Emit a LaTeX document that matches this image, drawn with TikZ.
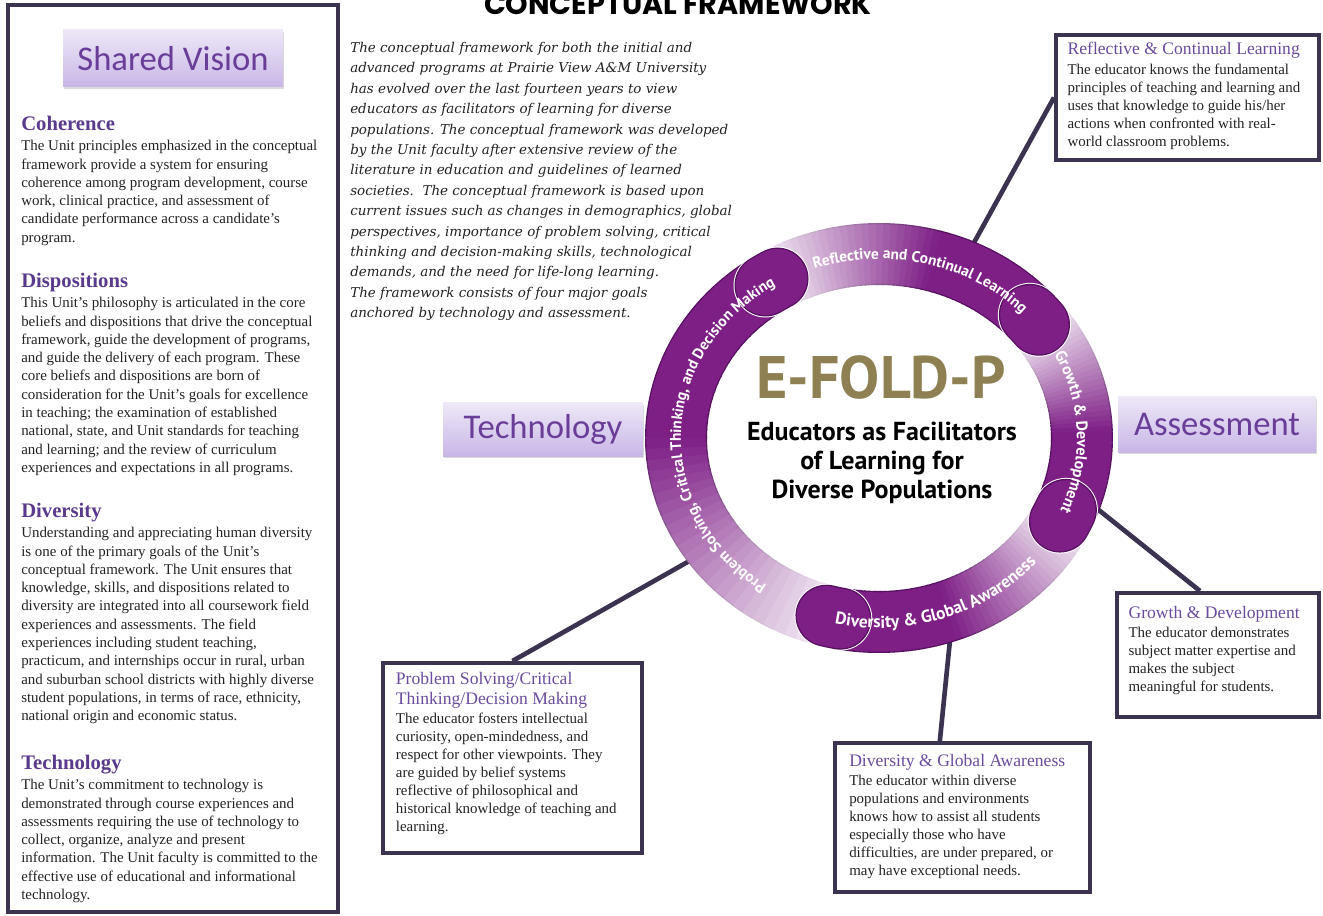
\documentclass[tikz,border=0pt]{standalone}
\usepackage{fontspec}
\setmainfont{Liberation Serif}
\newfontfamily\goalfont{Carlito}
\newfontfamily\ringfont{PT Sans}
\newfontfamily\introfont{DejaVu Serif}
\newfontfamily\titlefont{Poppins}
\usetikzlibrary{positioning, shadows, decorations.text}

\definecolor{framecol}{HTML}{3B3350}
\definecolor{headpurple}{HTML}{5A3A8C}
\definecolor{descpurple}{HTML}{6A4C9C}
\definecolor{goalpurple}{HTML}{6A3E98}
\definecolor{lavtop}{HTML}{EEE8F8}
\definecolor{lavbot}{HTML}{C8B6E6}
\definecolor{ringdark}{HTML}{7E1F86}
\definecolor{ringdeep}{HTML}{561060}
\definecolor{ringlight}{HTML}{F4ECF5}
\definecolor{efoldgold}{HTML}{8E8052}
\definecolor{bodygray}{HTML}{222222}

\newcommand{\bodysize}{\fontsize{11.2}{13.7}\selectfont\color{bodygray}}
\newcommand{\descsize}{\fontsize{11.2}{13.5}\selectfont\color{bodygray}}
\newcommand{\secthead}[1]{{\fontsize{15.5}{13.7}\selectfont\bfseries\color{headpurple}#1}}
\newcommand{\deschead}[1]{{\fontsize{13.2}{13.5}\selectfont\color{descpurple}#1}}
\newcommand{\ringsmall}{\ringfont\bfseries\fontsize{11.5}{12}\selectfont}
\newcommand{\ringmid}{\ringfont\bfseries\fontsize{12}{12}\selectfont}
\newcommand{\ringbig}{\ringfont\bfseries\fontsize{13}{13}\selectfont}

\begin{document}
\begin{tikzpicture}[x=0.75pt, y=0.75pt,
    goalbox/.style={rectangle, top color=lavtop, bottom color=lavbot, draw=none,
                    drop shadow={opacity=0.3, shadow xshift=0.8pt, shadow yshift=-1.8pt},
                    font=\goalfont\fontsize{26}{30}\selectfont, text=goalpurple},
    section/.style={anchor=north west, align=left, inner sep=0pt, font=\bodysize},
    descbox/.style={rectangle, draw=framecol, line width=3pt, fill=white},
    desctext/.style={anchor=north west, align=left, inner sep=0pt, font=\descsize},
    conn/.style={draw=framecol, line width=3.5pt},
    ringedge/.style={line width=46.5pt},
    ringband/.style={line width=44.5pt},
    ringlabel/.style={decorate, decoration={text along path, text align=center,
                      text color=white, text={#1}}}
]
\useasboundingbox (0,0) rectangle (1323,915);
\clip (0,0) rectangle (1323,915);

% Title
\node[font=\titlefont\bfseries\fontsize{21.5}{24}\selectfont, anchor=base] (title) at (678,900) {CONCEPTUAL FRAMEWORK};

% Left panel
\draw[draw=framecol, line width=3pt] (8,3) rectangle (338,910);
\node[goalbox, minimum width=165pt, minimum height=42.75pt] (vision) at (173,856.5) {Shared Vision};

\node[section] (coh) at (21,799) {\secthead{Coherence}\\[1.5pt]
The Unit principles emphasized in the conceptual\\
framework provide a system for ensuring\\
coherence among program development, course\\
work, clinical practice, and assessment of\\
candidate performance across a candidate's\\
program.};

\node[section] (disp) at (21,642) {\secthead{Dispositions}\\[1.5pt]
This Unit’s philosophy is articulated in the core\\
beliefs and dispositions that drive the conceptual\\
framework, guide the development of programs,\\
and guide the delivery of each program. These\\
core beliefs and dispositions are born of\\
consideration for the Unit’s goals for excellence\\
in teaching; the examination of established\\
national, state, and Unit standards for teaching\\
and learning; and the review of curriculum\\
experiences and expectations in all programs.};

\node[section] (div) at (21,412) {\secthead{Diversity}\\[1.5pt]
Understanding and appreciating human diversity\\
is one of the primary goals of the Unit’s\\
conceptual framework. The Unit ensures that\\
knowledge, skills, and dispositions related to\\
diversity are integrated into all coursework field\\
experiences and assessments. The field\\
experiences including student teaching,\\
practicum, and internships occur in rural, urban\\
and suburban school districts with highly diverse\\
student populations, in terms of race, ethnicity,\\
national origin and economic status.};

\node[section] (tech) at (21,160) {\secthead{Technology}\\[1.5pt]
The Unit’s commitment to technology is\\
demonstrated through course experiences and\\
assessments requiring the use of technology to\\
collect, organize, analyze and present\\
information. The Unit faculty is committed to the\\
effective use of educational and informational\\
technology.};

% Intro paragraph
\node[anchor=north west, align=left, inner sep=0pt,
      font=\introfont\itshape\fontsize{10.1}{15.3}\selectfont\color{bodygray}] (intro) at (350,873) {%
The conceptual framework for both the initial and\\
advanced programs at Prairie View A\&M University\\
has evolved over the last fourteen years to view\\
educators as facilitators of learning for diverse\\
populations. The conceptual framework was developed\\
by the Unit faculty after extensive review of the\\
literature in education and guidelines of learned\\
societies.\ \ The conceptual framework is based upon\\
current issues such as changes in demographics, global\\
perspectives, importance of problem solving, critical\\
thinking and decision-making skills, technological\\
demands, and the need for life-long learning.\\
The framework consists of four major goals\\
anchored by technology and assessment.};

% Goals
\node[goalbox, minimum width=150pt, minimum height=39.75pt] (techgoal) at (543,485.5) {Technology};
\node[goalbox, minimum width=148.5pt, minimum height=41.25pt] (assess) at (1217,490.5) {Assessment};

% Ring anchors
\coordinate (ringc) at (879,477);
\coordinate (ringrefl) at (960,647);
\coordinate (ringgrowth) at (1085,416);
\coordinate (ringdivers) at (951,285);
\coordinate (ringprobl) at (700,360);

% Description boxes
\node[descbox, minimum width=197.25pt, minimum height=93.75pt] (refl) at (1187.5,817.5) {};
\node[desctext, below right=7pt and 10pt of refl.north west] (refltext) {\deschead{Reflective \& Continual Learning}\\[0.8pt]
The educator knows the fundamental\\
principles of teaching and learning and\\
uses that knowledge to guide his/her\\
actions when confronted with real-\\
world classroom problems.};

\node[descbox, minimum width=151.5pt, minimum height=93pt] (growth) at (1218,260) {};
\node[desctext, below right=11pt and 10pt of growth.north west] (growthtext) {\deschead{Growth \& Development}\\[0.8pt]
The educator demonstrates\\
subject matter expertise and\\
makes the subject\\
meaningful for students.};

\node[descbox, minimum width=194.25pt, minimum height=142.5pt] (probl) at (512.5,157) {};
\node[desctext, below right=8pt and 11pt of probl.north west] (probltext) {\deschead{Problem Solving/Critical}\\[1.5pt]
\deschead{Thinking/Decision Making}\\[0.8pt]
The educator fosters intellectual\\
curiosity, open-mindedness, and\\
respect for other viewpoints. They\\
are guided by belief systems\\
reflective of philosophical and\\
historical knowledge of teaching and\\
learning.};

\node[descbox, minimum width=191.25pt, minimum height=111.75pt] (divers) at (962.5,97.5) {};
\node[desctext, below right=10pt and 12pt of divers.north west] (diverstext) {\deschead{Diversity \& Global Awareness}\\[0.8pt]
The educator within diverse\\
populations and environments\\
knows how to assist all students\\
especially those who have\\
difficulties, are under prepared, or\\
may have exceptional needs.};

% Connectors
\draw[conn] (refl.west) -- (ringrefl);
\draw[conn] ([xshift=-13.5pt]growth.north) -- (ringgrowth);
\draw[conn] ([xshift=-17pt]divers.north) -- (ringdivers);
\draw[conn] (probl.north) -- (ringprobl);

% Ring segments, light to dark going clockwise (edge pass, then fill pass)
\foreach \layer/\mixdark in {ringedge/ringdeep, ringband/ringdark}{
  \foreach \segstart/\segend in {255/120, 120/38, 38/-27, -27/-105}{
    \foreach \i in {0,...,44}{
      \pgfmathsetmacro\angA{\segstart-(\segstart-\segend)*\i/45}
      \pgfmathsetmacro\angB{\segstart-(\segstart-\segend)*(\i+1)/45-0.3}
      \pgfmathtruncatemacro\mixp{min(100,100*(\i+0.5)/45/0.55)}
      \draw[\layer, draw=\mixdark!\mixp!ringlight] (ringc) ++(\angA:203 and 184)
        arc[start angle=\angA, end angle=\angB, x radius=203, y radius=184];
    }
  }
}
% Rounded ends
\foreach \segend in {120, 38, -27, -105}{
  \pgfmathsetmacro\angA{\segend+4}
  \draw[ringedge, white, line width=48pt, line cap=round] (ringc) ++(\angA:203 and 184)
    arc[start angle=\angA, end angle=\segend, x radius=203, y radius=184];
  \draw[ringedge, ringdeep, line cap=round] (ringc) ++(\angA:203 and 184)
    arc[start angle=\angA, end angle=\segend, x radius=203, y radius=184];
  \draw[ringband, ringdark, line cap=round] (ringc) ++(\angA:203 and 184)
    arc[start angle=\angA, end angle=\segend, x radius=203, y radius=184];
}

% Ring labels
\path[ringlabel={|\ringsmall|Reflective and Continual Learning}]
  (ringc) ++(128:198 and 179) arc[start angle=128, end angle=24, x radius=198, y radius=179];
\path[ringlabel={|\ringmid|Growth {\&} Development}]
  (ringc) ++(34:198 and 179) arc[start angle=34, end angle=-30, x radius=198, y radius=179];
\path[ringlabel={|\ringbig|Diversity {\&} Global Awareness}]
  (ringc) ++(-125:209 and 190) arc[start angle=-125, end angle=-17, x radius=209, y radius=190];
\path[ringlabel={|\ringsmall|Problem Solving, Critical Thinking, and Decision Making}]
  (ringc) ++(245:198 and 179) arc[start angle=245, end angle=112, x radius=198, y radius=179];

% Centre
\node[font=\ringfont\bfseries\fontsize{45}{50}\selectfont, text=efoldgold] (efold) at (881,538) {E-FOLD-P};
\node[font=\ringfont\bfseries\fontsize{19.5}{21.75}\selectfont, align=center] (motto) at (882,452)
  {Educators as Facilitators\\of Learning for\\Diverse Populations};
\end{tikzpicture}
\end{document}
